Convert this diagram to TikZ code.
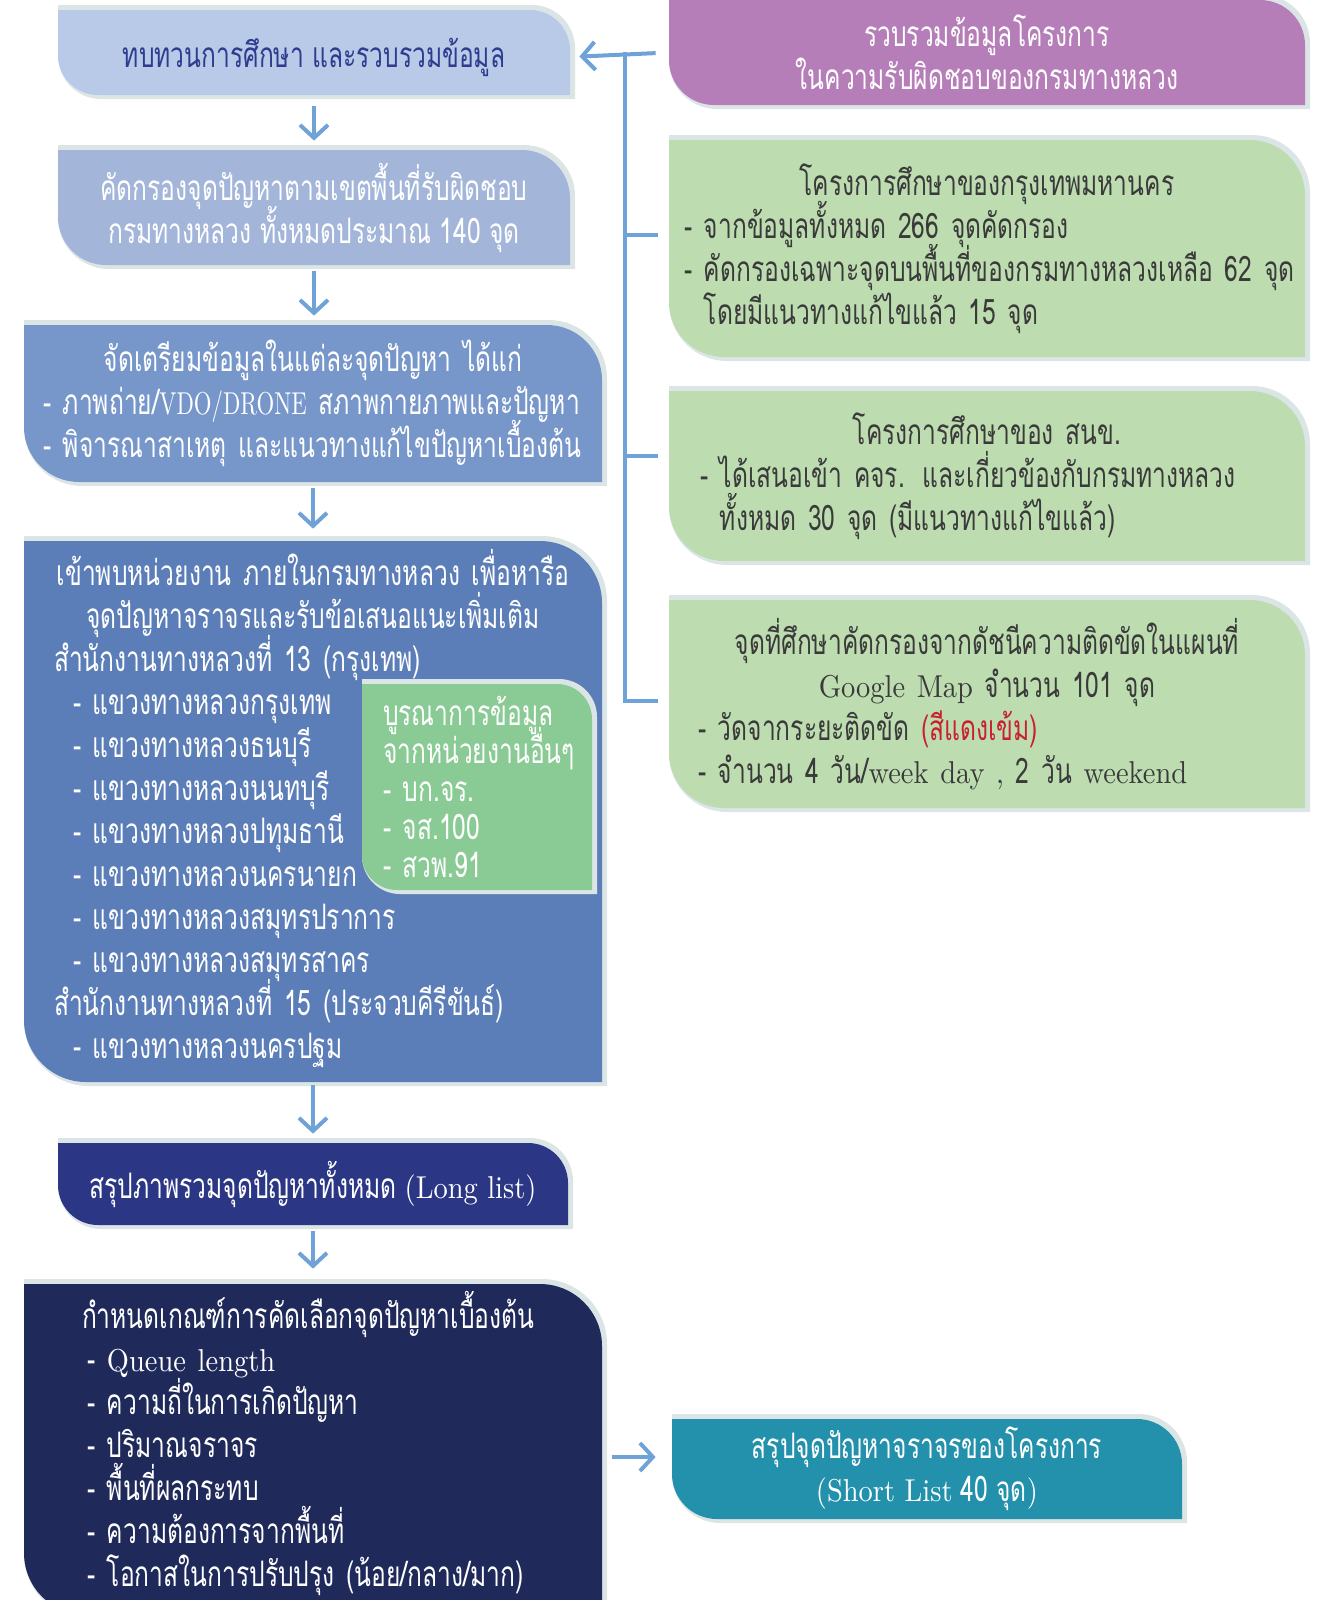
\documentclass[tikz,border=0pt]{standalone}
\usepackage{fontspec}
\usepackage{graphicx}
\newfontfamily\thaifont[Script=Thai, FakeStretch=0.70]{Loma}
\newfontfamily\latinfont[FakeStretch=0.9]{lmroman10-regular.otf}
\usetikzlibrary{arrows.meta}

\definecolor{linkblue}{HTML}{6FA3D8}
\definecolor{shadowcol}{HTML}{DCE5E6}
\definecolor{reviewfill}{HTML}{B9CAE8}
\definecolor{reviewtext}{HTML}{2D3C8E}
\definecolor{screenfill}{HTML}{A3B6DA}
\definecolor{preparefill}{HTML}{7797CA}
\definecolor{meetfill}{HTML}{5B7EB8}
\definecolor{otherfill}{HTML}{8ACB95}
\definecolor{longfill}{HTML}{2B3784}
\definecolor{critfill}{HTML}{1F2A5B}
\definecolor{shortfill}{HTML}{2391AC}
\definecolor{gatherfill}{HTML}{B67EB8}
\definecolor{studyfill}{HTML}{BDDDB1}
\definecolor{darktext}{HTML}{3A3A3A}
\definecolor{darkred}{HTML}{C8202E}

% box with rounded top-right and bottom-left corners
\newcommand\leafpath[5]{({#1},{#2}) -- ({(#3)-(#5)},{#2}) .. controls ({(#3)-0.448*(#5)},{#2}) and ({#3},{(#2)+0.448*(#5)}) .. ({#3},{(#2)+(#5)}) -- ({#3},{#4}) -- ({(#1)+(#5)},{#4}) .. controls ({(#1)+0.448*(#5)},{#4}) and ({#1},{(#4)-0.448*(#5)}) .. ({#1},{(#4)-(#5)}) -- cycle}
\newcommand\leafbox[9]{%
  \fill[shadowcol] \leafpath{#2}{(#3)-5}{(#4)+5}{(#5)+4}{(#6)+3};
  \fill[#7] \leafpath{#2}{#3}{#4}{#5}{#6};
  \node[boxtext, minimum width={((#4)-(#2))*0.02cm}, minimum height={((#5)-(#3))*0.02cm}, #8] (#1) at ({((#2)+(#4))/2},{((#3)+(#5))/2}) {#9};}
\newcommand\ctr[1]{\leavevmode\hbox to\hsize{\hfil#1\hfil}}
\newcommand\lat[1]{{\latinfont\fontsize{18}{24}\selectfont #1}}
\newcommand\latn[1]{\scalebox{0.8}[1]{\lat{#1}}}
\newcommand\ind{\hspace*{0.38cm}}
\newcommand\thaisize[2]{\thaifont\fontsize{#1}{#2}\selectfont\lineskiplimit=-100pt\hyphenpenalty=10000\hbadness=10000\hfuzz=200pt\relax}

\begin{document}
\begin{tikzpicture}[x=0.02cm, y=-0.02cm,
    boxtext/.style={inner sep=0pt, font=\thaisize{20}{24.5}},
    flow/.style={draw=linkblue, line width=0.08cm, -{Straight Barb[length=0.26cm, width=0.56cm]}},
    link/.style={draw=linkblue, line width=0.08cm}
  ]
  \useasboundingbox (0,0) rectangle (1325,1600);

  % left column
  \leafbox{review}{58}{10}{570}{95}{40}{reviewfill}{text=reviewtext, align=center, yshift=-0.09cm}{ทบทวนการศึกษา และรวบรวมข้อมูล}
  \leafbox{screen}{58}{150}{570}{265}{48}{screenfill}{text=white, align=center}{คัดกรองจุดปัญหาตามเขตพื้นที่รับผิดชอบ\\กรมทางหลวง ทั้งหมดประมาณ 140 จุด}
  \leafbox{prepare}{24}{325}{602}{482}{55}{preparefill}{text=white, align=left, text width=10.8cm}{\ctr{จัดเตรียมข้อมูลในแต่ละจุดปัญหา ได้แก่}\\\mbox{- ภาพถ่าย/\latn{VDO/DRONE} สภาพกายภาพและปัญหา}\\\mbox{- พิจารณาสาเหตุ และแนวทางแก้ไขปัญหาเบื้องต้น}}
  \leafbox{meeting}{24}{541}{602}{1082}{62}{meetfill}{text=white, align=left, text width=10.36cm, yshift=0.06cm}{\ctr{เข้าพบหน่วยงาน ภายในกรมทางหลวง เพื่อหารือ}\\\ctr{จุดปัญหาจราจรและรับข้อเสนอแนะเพิ่มเติม}\\\mbox{สำนักงานทางหลวงที่ 13 (กรุงเทพ)}\\\ind- แขวงทางหลวงกรุงเทพ\\\ind- แขวงทางหลวงธนบุรี\\\ind- แขวงทางหลวงนนทบุรี\\\ind- แขวงทางหลวงปทุมธานี\\\ind- แขวงทางหลวงนครนายก\\\ind- แขวงทางหลวงสมุทรปราการ\\\ind- แขวงทางหลวงสมุทรสาคร\\\mbox{สำนักงานทางหลวงที่ 15 (ประจวบคีรีขันธ์)}\\\ind- แขวงทางหลวงนครปฐม}
  \leafbox{others}{362}{684}{592}{890}{35}{otherfill}{text=white, align=left, text width=3.76cm, font=\thaisize{20}{21.6}}{บูรณาการข้อมูล\\จากหน่วยงานอื่นๆ\\- บก.จร.\\- จส.100\\- สวพ.91}
  \leafbox{longlist}{58}{1143}{568}{1225}{40}{longfill}{text=white, align=center}{สรุปภาพรวมจุดปัญหาทั้งหมด \lat{(Long list)}}
  \leafbox{criteria}{24}{1284}{602}{1615}{62}{critfill}{text=white, align=left, text width=9.24cm, yshift=0.12cm}{\mbox{กำหนดเกณฑ์การคัดเลือกจุดปัญหาเบื้องต้น}\\\hspace*{0.1cm}- \lat{Queue length}\\\hspace*{0.1cm}- ความถี่ในการเกิดปัญหา\\\hspace*{0.1cm}- ปริมาณจราจร\\\hspace*{0.1cm}- พื้นที่ผลกระทบ\\\hspace*{0.1cm}- ความต้องการจากพื้นที่\\\hspace*{0.1cm}\mbox{- โอกาสในการปรับปรุง (น้อย/กลาง/มาก)}}

  % right column
  \leafbox{gather}{669}{0}{1305}{105}{45}{gatherfill}{text=white, align=center}{รวบรวมข้อมูลโครงการ\\ในความรับผิดชอบของกรมทางหลวง}
  \leafbox{bangkok}{669}{140}{1305}{357}{55}{studyfill}{text=darktext, align=left, text width=12.12cm}{\ctr{โครงการศึกษาของกรุงเทพมหานคร}\\\mbox{- จากข้อมูลทั้งหมด 266 จุดคัดกรอง}\\\mbox{- คัดกรองเฉพาะจุดบนพื้นที่ของกรมทางหลวงเหลือ 62 จุด}\\\phantom{-~}\mbox{โดยมีแนวทางแก้ไขแล้ว 15 จุด}}
  \leafbox{otp}{669}{391}{1305}{561}{55}{studyfill}{text=darktext, align=left, text width=11.48cm}{\ctr{โครงการศึกษาของ สนข.}\\\mbox{- ได้เสนอเข้า คจร. และเกี่ยวข้องกับกรมทางหลวง}\\\phantom{-~}\mbox{ทั้งหมด 30 จุด (มีแนวทางแก้ไขแล้ว)}}
  \leafbox{gmap}{669}{600}{1305}{808}{55}{studyfill}{text=darktext, align=left, text width=11.56cm}{\ctr{จุดที่ศึกษาคัดกรองจากดัชนีความติดขัดในแผนที่}\\\ctr{\lat{Google Map} จำนวน 101 จุด}\\\mbox{- วัดจากระยะติดขัด \textcolor{darkred}{(สีแดงเข้ม)}}\\\mbox{- จำนวน 4 วัน/\lat{week day ,} 2 วัน \lat{weekend}}}
  \leafbox{shortlist}{672}{1419}{1182}{1519}{45}{shortfill}{text=white, align=center}{สรุปจุดปัญหาจราจรของโครงการ\\\lat{(Short List} 40 จุด\lat{)}}

  % flow down the left column
  \draw[flow, shorten <=0.12cm, shorten >=0.18cm] (review.south) -- (screen.north);
  \draw[flow, shorten <=0.12cm, shorten >=0.18cm] (screen.south) -- (screen.south |- prepare.north);
  \draw[flow, shorten <=0.12cm, shorten >=0.18cm] (prepare.south) -- (meeting.north);
  \draw[flow, shorten <=0.12cm, shorten >=0.18cm] (meeting.south) -- (longlist.north);
  \draw[flow, shorten <=0.12cm, shorten >=0.18cm] (longlist.south) -- (longlist.south |- criteria.north);
  \draw[flow, shorten <=0.2cm, shorten >=0.32cm] ([yshift=0.24cm]criteria.east |- shortlist.west) -- ([yshift=0.24cm]shortlist.west);

  % sources feeding the review
  \coordinate (bus) at (625,52);
  \draw[flow, shorten <=0.26cm, shorten >=0.18cm] (gather.west) -- (review.east);
  \draw[link, shorten >=0.22cm] (bus) |- ([yshift=0.27cm]bangkok.west);
  \draw[link, shorten >=0.22cm] (bus) |- ([yshift=0.4cm]otp.west);
  \draw[link, shorten >=0.22cm] (bus) |- ([yshift=0.06cm]gmap.west);
\end{tikzpicture}
\end{document}
